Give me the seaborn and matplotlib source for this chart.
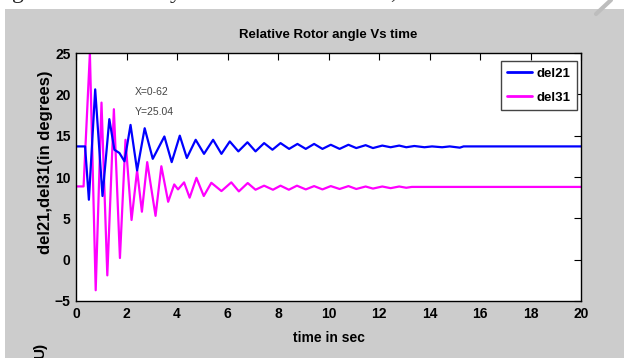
import pandas as pd
import matplotlib.pyplot as plt
import matplotlib.patches as mpatches
from matplotlib.lines import Line2D
import seaborn as sns

# values (time in s, angle in degrees)
t21 = [0.0, 0.36, 0.51, 0.76, 1.05, 1.32, 1.52, 1.62, 1.72, 1.92, 2.16, 2.42, 2.72,
       3.04, 3.5, 3.79, 4.11, 4.39, 4.74, 5.07, 5.43, 5.76, 6.09, 6.43, 6.79, 7.11,
       7.45, 7.78, 8.1, 8.44, 8.77, 9.1, 9.43, 9.76, 10.09, 10.44, 10.79, 11.1,
       11.47, 11.76, 12.13, 12.46, 12.8, 13.08, 13.4, 13.8, 14.1, 14.5, 14.8,
       15.2, 15.35, 20.0]
del21 = [13.7, 13.7, 7.25, 20.6, 7.7, 17.0, 13.3, 13.1, 12.9, 11.9, 16.3, 10.8, 15.9,
         12.2, 14.9, 11.8, 15.0, 12.3, 14.5, 12.8, 14.5, 12.8, 14.3, 13.1, 14.2, 13.1,
         14.1, 13.3, 14.1, 13.4, 14.0, 13.4, 14.0, 13.4, 13.9, 13.4, 13.9, 13.5,
         13.85, 13.5, 13.8, 13.6, 13.8, 13.6, 13.75, 13.6, 13.7, 13.6, 13.7,
         13.55, 13.7, 13.7]

t31 = [0.0, 0.3, 0.55, 0.78, 1.01, 1.24, 1.5, 1.74, 1.96, 2.2, 2.42, 2.61, 2.82,
       3.15, 3.38, 3.65, 3.89, 4.04, 4.28, 4.5, 4.77, 5.06, 5.36, 5.76, 6.15, 6.45,
       6.8, 7.11, 7.45, 7.8, 8.1, 8.43, 8.75, 9.1, 9.43, 9.76, 10.09, 10.44, 10.79,
       11.1, 11.47, 11.76, 12.13, 12.46, 12.8, 13.08, 13.3, 20.0]
del31 = [8.86, 8.86, 25.0, -3.7, 19.0, -1.9, 18.2, 0.2, 14.5, 4.8, 10.8, 5.8, 11.8,
         5.3, 11.3, 7.0, 9.1, 8.5, 9.35, 7.5, 9.9, 7.7, 9.3, 8.3, 9.35, 8.26,
         9.27, 8.46, 8.95, 8.46, 8.95, 8.46, 8.95, 8.5, 8.9, 8.5, 8.9, 8.55, 8.9,
         8.55, 8.85, 8.6, 8.85, 8.65, 8.85, 8.7, 8.8, 8.8]

colors = {"del21": "#0000ff", "del31": "#ff00ff"}

df = pd.concat([
    pd.DataFrame({"time": t31, "angle": del31, "series": "del31"}),
    pd.DataFrame({"time": t21, "angle": del21, "series": "del21"}),
], ignore_index=True)

sns.set_style("white")
plt.rcParams["font.family"] = ["Liberation Sans", "DejaVu Sans"]
plt.rcParams["text.color"] = "black"
plt.rcParams["axes.labelcolor"] = "black"

W, H = 624, 358
fig = plt.figure(figsize=(W / 100, H / 100), dpi=100, facecolor="white")

# grey window background of the screenshot, with cut-off text above it
fig.patches.append(mpatches.Rectangle((5 / W, 0), 1, 1 - 9 / H, transform=fig.transFigure,
                                      facecolor="#cccccc", edgecolor="none", zorder=-1))
for px, ch in [(12, "g"), (170, "y"), (390, ",")]:
    fig.text(px / W, 1 + 2 / H, ch, family="Liberation Serif", fontsize=17,
             va="baseline", color="#222222", zorder=-2)
fig.lines.append(Line2D([611 / W, 596 / W], [1, 1 - 14 / H], transform=fig.transFigure,
                        color="#bdbdbd", linewidth=3, zorder=-0.5))

ax = fig.add_axes([76 / W, 1 - 301 / H, (581 - 76) / W, (301 - 53) / H])
ax.set_facecolor("white")

sns.lineplot(data=df, x="time", y="angle", hue="series", palette=colors,
             estimator=None, sort=False, linewidth=1.6, legend=False, ax=ax)
for ln in ax.get_lines():
    ln.set_solid_joinstyle("round")

ax.set_xlim(0, 20)
ax.set_ylim(-5, 25)
ax.set_xticks(range(0, 21, 2))
ax.set_yticks(range(-5, 26, 5))
ax.tick_params(direction="in", top=True, right=True, length=5, width=0.8,
               labelsize=10, pad=4, colors="black")
for lab in ax.get_xticklabels() + ax.get_yticklabels():
    lab.set_fontweight("bold")
for sp in ax.spines.values():
    sp.set_color("black")
    sp.set_linewidth(1)

ax.set_title("Relative Rotor angle Vs time", fontsize=9.5, fontweight="bold", pad=11,
             color="black")
ax.set_xlabel("time in sec", fontsize=10, fontweight="bold")
ax.xaxis.set_label_coords(0.5, -0.12)
ax.set_ylabel("del21,del31(in degrees)", fontsize=12, fontweight="bold")
ax.yaxis.set_label_coords(-0.045, 0.56)

ax.text(2.33, 20.3, "X=0-62", fontsize=7.5, color="#444444", va="center")
ax.text(2.33, 17.9, "Y=25.04", fontsize=7.5, color="#444444", va="center")

handles = [Line2D([], [], color=colors["del21"], linewidth=2),
           Line2D([], [], color=colors["del31"], linewidth=2)]
leg = ax.legend(handles, ["del21", "del31"], loc="upper right",
                bbox_to_anchor=(0.992, 0.968), borderaxespad=0, fancybox=False,
                framealpha=1, edgecolor="#444444", handlelength=1.9,
                handletextpad=0.3, borderpad=0.5,
                prop={"weight": "bold", "size": 9.5}, labelspacing=0.9)
leg.get_frame().set_linewidth(1)

# cut-off rotated label of the next panel
fig.text(40 / W, 7 / H, "U)", rotation=90, fontsize=11, fontweight="bold",
         ha="center", va="center")

fig.savefig("out.png", dpi=100, facecolor=fig.get_facecolor())
